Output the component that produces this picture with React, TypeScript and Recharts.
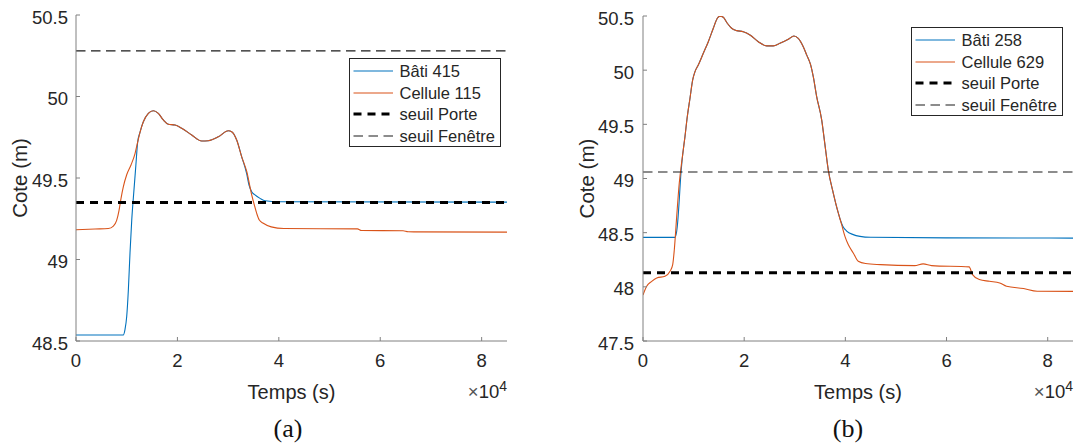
import React from 'react';
import { LineChart, Line, XAxis, YAxis, ReferenceLine, Legend } from 'recharts';

const FONT = '"Liberation Sans", Arial, Helvetica, sans-serif';
const SERIF = '"Liberation Serif", "DejaVu Serif", serif';
const TEXT = '#262626';
const AXIS = '#808080';
const BLUE = '#0072BD';
const ORANGE = '#D95319';

// ---------- shared ticks ----------
const xTicks = [0, 20000, 40000, 60000, 80000];
const xDomain = [0, 85000];

// ---------- panel (a) ----------
const tempsBatiA = [0, 9330, 9660, 10000, 10320, 10650, 10990, 11440, 11800, 12160, 12620, 13280, 14270, 15250, 16230, 17220, 18210, 19530, 20840, 22820, 24790, 26100, 28070, 30040, 30700, 31690, 32680, 33670, 34120, 34650, 35300, 36290, 37280, 40000, 85000];
const coteBatiA = [48.537, 48.537, 48.57, 48.65, 48.81, 49.04, 49.24, 49.43, 49.575, 49.72, 49.78, 49.845, 49.897, 49.913, 49.897, 49.856, 49.83, 49.825, 49.805, 49.764, 49.727, 49.729, 49.753, 49.79, 49.784, 49.733, 49.63, 49.525, 49.457, 49.416, 49.396, 49.375, 49.36, 49.354, 49.352];
const tempsCelluleA = [0, 3750, 6380, 7370, 8020, 8480, 8880, 9340, 10000, 10850, 11640, 12160, 12620, 13280, 14270, 15250, 16230, 17220, 18210, 19530, 20840, 22820, 24790, 26100, 28070, 30040, 30700, 31690, 32680, 33670, 34650, 35170, 35640, 36150, 36940, 38500, 41000, 55500, 56300, 64500, 65500, 85000];
const coteCelluleA = [49.182, 49.187, 49.19, 49.205, 49.24, 49.3, 49.375, 49.447, 49.52, 49.58, 49.65, 49.72, 49.78, 49.845, 49.897, 49.913, 49.897, 49.856, 49.83, 49.825, 49.805, 49.764, 49.727, 49.729, 49.753, 49.79, 49.784, 49.733, 49.63, 49.54, 49.396, 49.334, 49.283, 49.242, 49.222, 49.2, 49.19, 49.188, 49.178, 49.176, 49.17, 49.168];
const seuilPorteA = 49.35;
const seuilFenetreA = 50.28;
const yTicksA = [48.5, 49, 49.5, 50, 50.5];
const yDomainA = [48.5, 50.5];
const namesA = ['Bâti 415', 'Cellule 115', 'seuil Porte', 'seuil Fenêtre'];

// ---------- panel (b) ----------
const tempsBatiB = [0, 6320, 6780, 7170, 7450, 7710, 8300, 8760, 9290, 9820, 10280, 10930, 11920, 12910, 13900, 14690, 15220, 15870, 16660, 17520, 18510, 19820, 21150, 22790, 24450, 25750, 27070, 28720, 29840, 30690, 31680, 32350, 33140, 33660, 34330, 35320, 35970, 36620, 37610, 38600, 38930, 39500, 40250, 41560, 42890, 45000, 60000, 85000];
const coteBatiB = [48.457, 48.457, 48.558, 48.804, 49.019, 49.16, 49.388, 49.572, 49.741, 49.91, 49.987, 50.048, 50.156, 50.263, 50.387, 50.479, 50.498, 50.488, 50.433, 50.387, 50.365, 50.355, 50.325, 50.263, 50.224, 50.224, 50.248, 50.285, 50.316, 50.294, 50.217, 50.141, 50.048, 49.94, 49.756, 49.541, 49.31, 49.08, 48.866, 48.682, 48.63, 48.56, 48.515, 48.482, 48.466, 48.457, 48.452, 48.45];
const tempsCelluleB = [0, 730, 1720, 2710, 4350, 5340, 5870, 6190, 6660, 7170, 7700, 8300, 8760, 9290, 9820, 10280, 10930, 11920, 12910, 13900, 14690, 15220, 15870, 16660, 17520, 18510, 19820, 21150, 22790, 24450, 25750, 27070, 28720, 29840, 30690, 31680, 32350, 33140, 33660, 34330, 35320, 35970, 36620, 37610, 38600, 39270, 39920, 40570, 41560, 42550, 44000, 46960, 53700, 55380, 57050, 64470, 65140, 66480, 68500, 70510, 71860, 75220, 77920, 85000];
const coteCelluleB = [47.925, 48.005, 48.051, 48.082, 48.097, 48.143, 48.205, 48.343, 48.65, 48.958, 49.17, 49.388, 49.572, 49.741, 49.91, 49.987, 50.048, 50.156, 50.263, 50.387, 50.479, 50.498, 50.488, 50.433, 50.387, 50.365, 50.355, 50.325, 50.263, 50.224, 50.224, 50.248, 50.285, 50.316, 50.294, 50.217, 50.141, 50.048, 49.94, 49.756, 49.541, 49.31, 49.08, 48.866, 48.682, 48.574, 48.466, 48.39, 48.313, 48.236, 48.215, 48.205, 48.196, 48.212, 48.196, 48.184, 48.113, 48.067, 48.051, 48.036, 48.005, 47.984, 47.959, 47.958];
const seuilPorteB = 48.13;
const seuilFenetreB = 49.06;
const yTicksB = [47.5, 48, 48.5, 49, 49.5, 50, 50.5];
const yDomainB = [47.5, 50.5];
const namesB = ['Bâti 258', 'Cellule 629', 'seuil Porte', 'seuil Fenêtre'];

const captions = ['(a)', '(b)'];

const zip = (ts: number[], vs: number[]) => ts.map((t, i) => ({ t, v: vs[i] }));

const legendStyles = [
  { stroke: BLUE, width: 1.2, dash: undefined },
  { stroke: ORANGE, width: 1.2, dash: undefined },
  { stroke: '#000', width: 3, dash: '8 6' },
  { stroke: '#1a1a1a', width: 1.2, dash: '9.5 5.5' },
];

const XTitle = (props: any) => {
  const vb = props.viewBox || { x: 0, y: 0, width: 0, height: 0 };
  const { x, y, width } = vb;
  return (
    <g>
      <text x={x + width / 2} y={y + 58} textAnchor="middle" fontSize={20} fontFamily={FONT} fill={TEXT}>
        Temps (s)
      </text>
      <text x={x + width} y={y + 57} textAnchor="end" fontSize={18.5} fontFamily={FONT} fill={TEXT}>
        <tspan fill="#555">×</tspan>10<tspan fontSize={14} dy={-7}>4</tspan>
      </text>
    </g>
  );
};

const YTitle = (props: any) => {
  const vb = props.viewBox || { x: 0, y: 0, width: 0, height: 0 };
  const cx = vb.x + vb.width - 49;
  const cy = vb.y + vb.height / 2;
  return (
    <text x={cx} y={cy} transform={`rotate(-90 ${cx} ${cy})`} textAnchor="middle" fontSize={20.5} fontFamily={FONT} fill={TEXT}>
      Cote (m)
    </text>
  );
};

const makeLegend = (names: string[]) => () => (
  <div
    style={{
      width: 152,
      height: 89,
      boxSizing: 'border-box',
      border: `1px solid ${TEXT}`,
      background: '#fff',
      position: 'relative',
    }}
  >
    {names.map((name, i) => {
      const s = legendStyles[i];
      return (
        <div
          key={name}
          style={{ position: 'absolute', left: 0, top: 12.5 + i * 21.6 - 11, height: 22, display: 'flex', alignItems: 'center' }}
        >
          <svg width={47} height={22} style={{ display: 'block' }}>
            <line x1={3.5} x2={43} y1={11} y2={11} stroke={s.stroke} strokeWidth={s.width} strokeDasharray={s.dash} />
          </svg>
          <span style={{ marginLeft: 3, fontSize: 16.5, fontFamily: FONT, color: TEXT, whiteSpace: 'nowrap', lineHeight: '22px' }}>
            {name}
          </span>
        </div>
      );
    })}
  </div>
);

type PanelProps = {
  left: number;
  width: number;
  yAxisWidth: number;
  marginRight: number;
  marginTop: number;
  bati: { t: number; v: number }[];
  cellule: { t: number; v: number }[];
  porte: number;
  fenetre: number;
  yDomain: number[];
  yTicks: number[];
  names: string[];
  legendLeft: number;
  legendTop: number;
  yTickMargin: number;
};

function Panel(p: PanelProps) {
  return (
    <div style={{ position: 'absolute', left: p.left, top: 0 }}>
      <LineChart width={p.width} height={445} margin={{ top: p.marginTop, right: p.marginRight, bottom: 64, left: 0 }}>
        <XAxis
          dataKey="t"
          type="number"
          domain={xDomain}
          ticks={xTicks}
          interval={0}
          allowDataOverflow
          height={40}
          stroke={AXIS}
          tickSize={-4}
          tickMargin={17}
          tickLine={{ stroke: AXIS }}
          tick={{ fill: TEXT, fontSize: 18.5, fontFamily: FONT }}
          tickFormatter={(v: number) => String(v / 10000)}
          label={<XTitle />}
        />
        <YAxis
          type="number"
          domain={p.yDomain}
          ticks={p.yTicks}
          interval={0}
          allowDataOverflow
          width={p.yAxisWidth}
          stroke={AXIS}
          tickSize={-4}
          tickMargin={p.yTickMargin}
          tickLine={{ stroke: AXIS }}
          tick={{ fill: TEXT, fontSize: 18.5, fontFamily: FONT, dy: 2 }}
          tickFormatter={(v: number) => String(v)}
          label={<YTitle />}
        />
        <Line data={p.bati} dataKey="v" type="monotone" stroke={BLUE} strokeWidth={1.1} dot={false} activeDot={false} isAnimationActive={false} />
        <Line data={p.cellule} dataKey="v" type="monotone" stroke={ORANGE} strokeWidth={1.1} dot={false} activeDot={false} isAnimationActive={false} />
        <ReferenceLine y={p.porte} stroke="#000" strokeWidth={3} strokeDasharray="8 6" />
        <ReferenceLine y={p.fenetre} stroke="#1a1a1a" strokeWidth={1.2} strokeDasharray="9.5 5.5" />
        <Legend
          layout="vertical"
          align="center"
          verticalAlign="middle"
          content={makeLegend(p.names)}
          wrapperStyle={{ left: p.legendLeft, top: p.legendTop, width: 152, height: 89 }}
        />
      </LineChart>
    </div>
  );
}

export default function App() {
  return (
    <div style={{ position: 'absolute', left: 0, top: 0, width: 1074, height: 445, background: '#fff', overflow: 'hidden' }}>
      <Panel
        left={0}
        width={530}
        yAxisWidth={76}
        marginRight={23}
        marginTop={15}
        bati={zip(tempsBatiA, coteBatiA)}
        cellule={zip(tempsCelluleA, coteCelluleA)}
        porte={seuilPorteA}
        fenetre={seuilFenetreA}
        yDomain={yDomainA}
        yTicks={yTicksA}
        names={namesA}
        legendLeft={348.5}
        legendTop={57.5}
        yTickMargin={12}
      />
      <Panel
        left={540}
        width={534}
        yAxisWidth={103}
        marginRight={1}
        marginTop={16}
        bati={zip(tempsBatiB, coteBatiB)}
        cellule={zip(tempsCelluleB, coteCelluleB)}
        porte={seuilPorteB}
        fenetre={seuilFenetreB}
        yDomain={yDomainB}
        yTicks={yTicksB}
        names={namesB}
        legendLeft={370.5}
        legendTop={26.5}
        yTickMargin={13}
      />
      <svg width={1074} height={445} style={{ position: 'absolute', left: 0, top: 0, pointerEvents: 'none' }}>
        <text x={288} y={437} textAnchor="middle" fontSize={26} fontFamily={SERIF} fill="#111">
          {captions[0]}
        </text>
        <text x={848} y={437} textAnchor="middle" fontSize={26} fontFamily={SERIF} fill="#111">
          {captions[1]}
        </text>
      </svg>
    </div>
  );
}
